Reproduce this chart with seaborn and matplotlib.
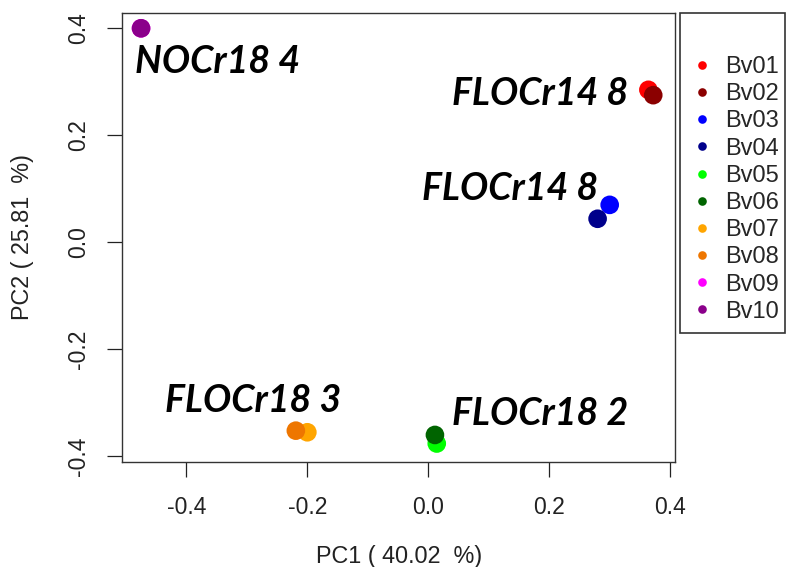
import matplotlib
matplotlib.use("Agg")
import matplotlib.pyplot as plt
from matplotlib.lines import Line2D
from matplotlib.patches import Rectangle
import seaborn as sns
import pandas as pd

# PCA scores per sample
samples = ["Bv01", "Bv02", "Bv03", "Bv04", "Bv05", "Bv06", "Bv07", "Bv08", "Bv09", "Bv10"]
pc1 = [0.364, 0.372, 0.300, 0.280, 0.014, 0.011, -0.200, -0.219, -0.475, -0.475]
pc2 = [0.285, 0.275, 0.070, 0.044, -0.376, -0.360, -0.355, -0.352, 0.400, 0.400]
colors = ["#FF0000", "#8B0000", "#0000FF", "#00008B", "#00FF00",
          "#006400", "#FFA500", "#EE7600", "#FF00FF", "#8B008B"]

# group labels written next to the clusters
group_labels = ["NOCr18 4", "FLOCr14 8", "FLOCr14 8", "FLOCr18 3", "FLOCr18 2"]
label_x = [-0.485, 0.0387, -0.011, -0.435, 0.039]
label_y = [0.316, 0.2565, 0.080, -0.317, -0.342]

ticks = [-0.4, -0.2, 0.0, 0.2, 0.4]
tick_labels = ["-0.4", "-0.2", "0.0", "0.2", "0.4"]

df = pd.DataFrame({"sample": samples, "PC1": pc1, "PC2": pc2})
palette = dict(zip(samples, colors))

sns.set_style("ticks")
plt.rcParams["font.family"] = ["Liberation Sans", "DejaVu Sans"]

fig = plt.figure(figsize=(7.87, 5.67), dpi=100)
W, H = 787, 567
ax = fig.add_axes([122.3 / W, 1 - 461.7 / H, (675 - 122.3) / W, (461.7 - 13.3) / H])

sns.scatterplot(data=df, x="PC1", y="PC2", hue="sample", hue_order=samples,
                palette=palette, s=180, linewidth=0, legend=False, ax=ax, zorder=3)

ax.set_xlim(-0.506, 0.408)
ax.set_ylim(-0.410, 0.428)
ax.set_xticks(ticks)
ax.set_xticklabels(tick_labels)
ax.set_yticks(ticks)
ax.set_yticklabels(tick_labels, rotation=90, va="center")
ax.set_xlabel("")
ax.set_ylabel("")
ax.tick_params(axis="both", direction="out", length=10.5, width=0.9, color="#222222",
               labelsize=16.5, labelcolor="#222222", bottom=True, left=True)
ax.tick_params(axis="x", pad=14)
ax.tick_params(axis="y", pad=13)
for sp in ax.spines.values():
    sp.set_visible(True)
    sp.set_color("#333333")
    sp.set_linewidth(1.0)
ax.grid(False)

for txt, x, y in zip(group_labels, label_x, label_y):
    ax.text(x, y, txt, ha="left", va="baseline", fontsize=27, fontweight="bold",
            fontstyle="italic", family=["Lato", "DejaVu Sans"], color="black", zorder=4)

fig.text(399 / W, 1 - 556 / H, "PC1 ( 40.02  %)", ha="center", va="center",
         fontsize=16.8, color="#222222")
fig.text(23 / W, 1 - 237.5 / H, "PC2 ( 25.81  %)", ha="center", va="center",
         rotation=90, fontsize=16.8, color="#222222")

# legend box with sample colours
fig.add_artist(Rectangle((680 / W, 1 - 333 / H), (785 - 680) / W, (333 - 13) / H,
                         transform=fig.transFigure, fill=False, ec="#333333", lw=1.2))
handles = [Line2D([], [], linestyle="none", marker="o", markersize=6.2,
                  markerfacecolor=c, markeredgewidth=0) for c in colors]
fig.legend(handles, samples, loc="upper left", bbox_to_anchor=(690 / W, 1 - 56 / H),
           frameon=False, fontsize=17, handlelength=1.0, handletextpad=0.5,
           labelspacing=0.22, borderpad=0, borderaxespad=0)

fig.savefig("out.png", dpi=100, facecolor="white")
